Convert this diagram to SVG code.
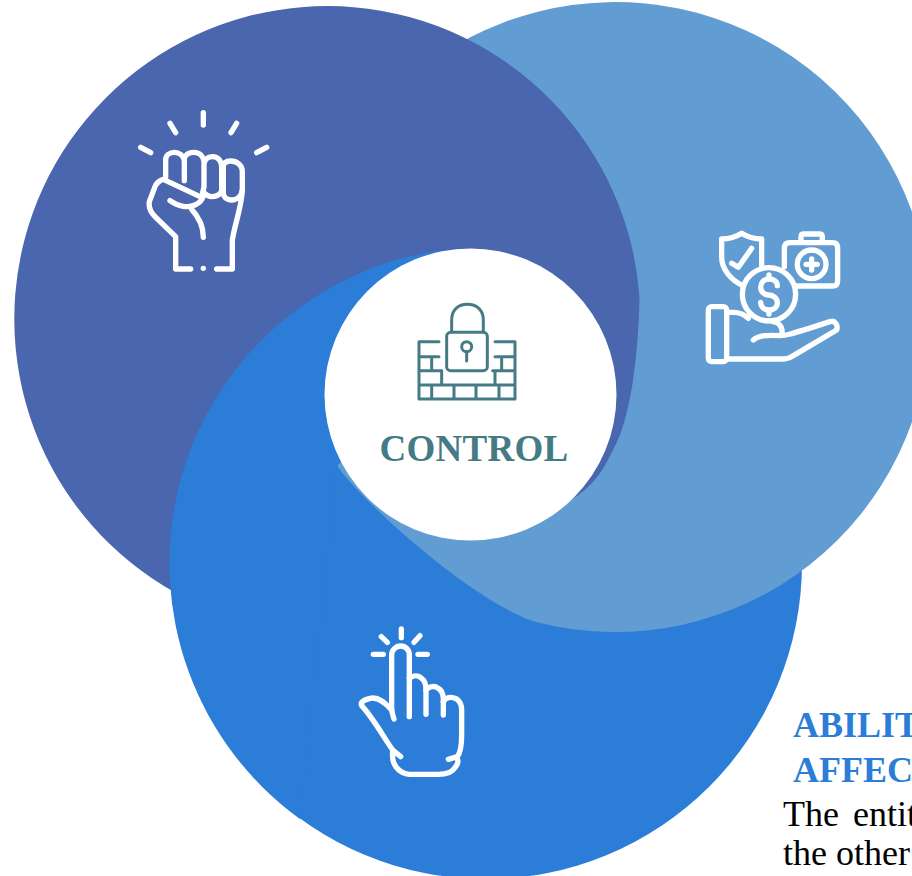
<svg xmlns="http://www.w3.org/2000/svg" width="912" height="876" viewBox="0 0 912 876">
<style>
.ic{fill:none;stroke:#fff;stroke-width:16;stroke-linecap:round;stroke-linejoin:round}
.lk{fill:none;stroke:#457b85;stroke-width:9;stroke-linecap:round;stroke-linejoin:round}
.head{font-family:"Liberation Serif","Times New Roman",serif;font-weight:bold;font-size:36px;fill:#2b7dd8}
.body{font-family:"Liberation Serif","Times New Roman",serif;font-size:36px;fill:#000}
</style>
<rect width="912" height="876" fill="#fff"/>
<g id="petals">
<circle id="petal-blue" cx="486" cy="563" r="316" fill="#2b7dd8"/>
<path id="petal-light" d="M540,623A315,315 0 1 0 338,467C365,505 480,608 540,623Z" fill="#619dd2"/>
<path id="petal-dark" d="M200,605A313,313 0 1 1 639.5,297C639,330 636,362 632,387C627,415 622,433 613,450C605,467 598,477 590,485C582,493 572,500 555,510L450,450L360,400Z" fill="#4a66ae"/>
<path id="petal-blue-top" d="M443,250A316,316 0 0 0 300,819L336,467L400,400Z" fill="#2b7dd8"/>
</g>
<g id="center">
<circle cx="470.5" cy="394.5" r="146" fill="#fff"/>
<g transform="translate(370,290) scale(.3333)" class="lk">
<path d="M245,125V90C245,60 265,43 292,43C320,43 340,60 340,90V125"/>
<rect x="230" y="127" width="122" height="115" rx="12"/>
<circle cx="290" cy="170" r="15"/>
<path d="M290,185V213"/>
<path d="M207,155H147V327H435V155H375M147,200H207M375,200H435M185,200V242M395,200V242M147,242H215V285M368,242H435M375,242V285M147,285H435M185,285V327M252,285V327M318,285V327M387,285V327"/>
</g>
<text x="474" y="461" text-anchor="middle" font-family="Liberation Serif,Times New Roman,serif" font-weight="bold" font-size="37" letter-spacing=".3" fill="#457b85">CONTROL</text>
</g>
<g id="icon-fist" transform="translate(120,90) scale(.3333)" class="ic">
<path d="M250,68V105M150,100L167,128M350,100L333,128M62,172L92,188M440,172L410,188"/>
<path d="M137,262V210C137,195 150,187 163,187C178,187 190,197 193,212V272"/>
<path d="M193,205C197,192 210,187 222,187C240,187 250,200 252,215V290L246,318"/>
<path d="M254,215C258,205 268,200 278,200C295,200 305,215 305,230V300C305,312 290,320 277,320C265,320 255,312 250,305"/>
<path d="M308,232C310,218 320,213 332,213C355,213 367,230 367,245V300C365,350 345,400 337,450V537H290"/>
<path d="M310,232V310C312,325 325,330 335,330C350,330 365,320 367,300"/>
<path d="M245,322L130,268C118,270 108,282 105,290L88,335C85,355 95,370 105,380L167,440V537H212"/>
<path d="M250,535V535.1"/>
<path d="M150,332C175,350 205,355 225,345C240,338 248,325 250,318"/>
<path d="M215,358C240,385 250,410 250,442"/>
</g>
<g id="icon-care" transform="translate(690,215) scale(.3333)" class="ic">
<rect x="55" y="275" width="55" height="165" rx="10"/>
<path d="M110,292H130C150,292 165,300 175,310"/>
<path d="M250,320C270,322 280,340 275,360"/>
<path d="M190,375C205,362 225,360 270,362C290,362 300,358 420,320C435,315 445,330 440,345L305,425C295,432 285,432 275,432H110"/>
<circle cx="237" cy="238" r="80"/>
<path d="M262,212C262,198 250,192 237,192C220,192 212,205 212,217C212,232 225,240 237,240C250,240 262,250 262,263C262,277 250,285 237,285C222,285 212,275 212,262M237,180V192M237,285V297"/>
<path d="M158,212C125,195 95,165 95,125V72C115,72 135,68 155,55C175,68 195,72 215,72V150"/>
<path d="M125,145L145,157L185,100"/>
<path d="M283,155V100Q283,83 300,83H428Q443,83 443,100V197Q443,213 428,213H318"/>
<path d="M333,80V65Q333,57 342,57H388Q397,57 397,65V80"/>
<circle cx="365" cy="148" r="43"/>
<path d="M365,132V165M348,148H382"/>
</g>
<g id="icon-pointer" transform="translate(340,615) scale(.3333)" class="ic">
<path d="M184,42V68M124,65L142,82M240,62L222,82M100,118H130M234,118H262"/>
<path d="M162,312C158,300 155,290 155,280V120C155,105 168,93 182,93C197,93 208,105 208,120V305"/>
<path d="M208,190C220,180 235,180 245,190C255,197 258,210 258,225V298"/>
<path d="M258,225C268,212 285,212 295,220C310,230 310,245 310,260V300"/>
<path d="M310,260C318,245 335,245 350,252C365,262 365,275 365,285V360C365,390 360,415 352,425L325,433"/>
<path d="M352,430C355,440 355,445 345,458C335,475 310,478 295,478H210C190,478 170,465 162,445C155,430 158,415 158,405L182,425"/>
<path d="M158,405C130,365 100,310 65,272C60,262 70,255 90,250C115,245 135,262 155,285"/>
</g>
<g id="caption">
<text class="head" x="793" y="737">ABILIT</text>
<text class="head" x="793" y="782">AFFEC</text>
<text class="body" x="783" y="826" word-spacing="5">The entit</text>
<text class="body" x="783" y="865">the other</text>
</g>
</svg>
